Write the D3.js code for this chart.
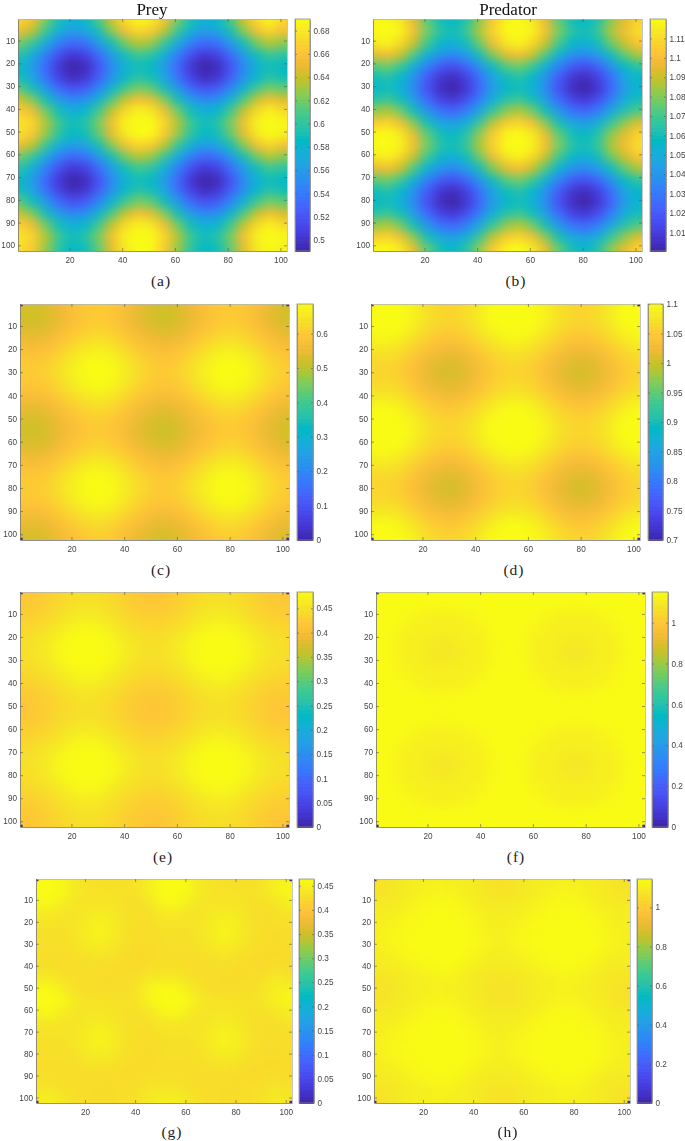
<!DOCTYPE html>
<html><head><meta charset="utf-8">
<script src="https://cdn.jsdelivr.net/npm/d3@7"></script>
<style>html,body{margin:0;padding:0;background:#fff}svg{display:block}</style>
</head><body><svg id="c" width="685" height="1141"></svg>
<script>
// grid positions at which the picture was read (matrix row / column index)
const gridIdx = [1,6,11,16,21,26,31,36,41,46,51,56,61,66,71,76,81,86,91,96,101];
const valueUnit = 1000; // values below are stored in thousandths
const cornerCells = [[1,1],[102,1],[1,102],[102,102]];
const axisTicks = [20,40,60,80,100];
const rowTicks = [10,20,30,40,50,60,70,80,90,100];
const parula = ["#3e26a8","#4432cb","#4741e5","#4852f4","#4563fd","#3875fe","#2e87f7","#2796eb","#20a5e3","#12b1d6","#02bac3","#24c1ae","#37c897","#57cc7a","#81cc59","#abc739","#d1bf27","#f0ba36","#fec338","#fad62d","#f5e924","#f9fb15"];
const columnTitles = ["Prey","Predator"];
const captions = ["(a)","(b)","(c)","(d)","(e)","(f)","(g)","(h)"];

// The fields repeat every 50 cells in the picture, so each panel lists the rows read over one period.
const A0=[670,656,622,592,578,584,609,643,673,689,682,656,622,592,578,584,609,643,673,689,670];
const A1=[652,637,603,575,561,567,590,624,654,670,663,637,603,575,561,567,590,624,654,670,657];
const A2=[621,603,572,545,531,537,560,590,620,636,629,603,572,545,531,537,560,590,620,636,625];
const A3=[597,575,545,518,504,510,533,563,590,606,599,575,545,518,504,510,533,563,590,606,599];
const A4=[584,561,531,504,490,496,519,549,576,590,584,561,531,504,490,496,519,549,576,590,584];
const A5=[590,567,537,510,496,502,525,555,582,597,590,567,537,510,496,502,525,555,582,597,590];
const A6=[614,590,560,533,519,525,548,578,607,622,616,590,560,533,519,525,548,578,607,622,616];
const A7=[642,624,590,563,549,555,578,610,640,656,650,624,590,563,549,555,578,610,640,656,646];
const A8=[666,654,620,590,576,582,607,640,671,686,680,654,620,590,576,582,607,640,671,686,673];
const A9=[680,670,636,606,590,597,622,656,686,690,690,670,636,606,590,597,622,656,686,690,688];
const A10=[675,663,629,599,584,590,616,649,680,690,689,663,629,599,584,590,616,649,680,690,684];
const preyA = [A0,A1,A2,A3,A4,A5,A6,A7,A8,A9,A10,A1,A2,A3,A4,A5,A6,A7,A8,A9,A10];

const B0=[1118,1120,1114,1096,1075,1060,1056,1064,1082,1104,1118,1120,1114,1096,1075,1060,1056,1064,1082,1095,1107];
const B1=[1120,1120,1118,1100,1079,1064,1060,1069,1087,1108,1120,1120,1118,1100,1079,1064,1060,1069,1087,1099,1112];
const B2=[1114,1118,1109,1091,1070,1056,1052,1060,1078,1099,1114,1118,1109,1091,1070,1056,1052,1060,1078,1091,1103];
const B3=[1096,1100,1091,1073,1053,1040,1036,1044,1060,1081,1096,1100,1091,1073,1053,1040,1036,1044,1060,1076,1087];
const B4=[1075,1079,1070,1053,1034,1021,1017,1025,1041,1060,1075,1079,1070,1053,1034,1021,1017,1025,1041,1058,1067];
const B5=[1060,1064,1056,1040,1021,1008,1004,1012,1028,1047,1060,1064,1056,1040,1021,1008,1004,1012,1028,1047,1056];
const B6=[1056,1060,1052,1036,1017,1004,1000,1008,1024,1043,1056,1060,1052,1036,1017,1004,1000,1008,1024,1043,1054];
const B7=[1064,1069,1060,1044,1025,1012,1008,1016,1032,1051,1064,1069,1060,1044,1025,1012,1008,1016,1032,1050,1060];
const B8=[1082,1087,1078,1060,1041,1028,1024,1032,1048,1068,1082,1087,1078,1060,1041,1028,1024,1032,1048,1063,1073];
const B9=[1104,1108,1099,1081,1060,1047,1043,1051,1068,1089,1104,1108,1099,1081,1060,1047,1043,1051,1068,1082,1094];
const predatorB = [B0,B1,B2,B3,B4,B5,B6,B7,B8,B9,B0,B1,B2,B3,B4,B5,B6,B7,B8,B9,B0];

const C0=[530,525,536,558,582,600,606,594,572,548,530,525,536,558,582,600,606,594,572,548,530];
const C1=[525,520,531,553,577,595,600,589,567,543,525,520,531,553,577,595,600,589,567,543,525];
const C2=[536,531,542,564,588,607,613,600,578,554,536,531,542,564,588,607,613,600,578,554,536];
const C3=[558,553,564,586,612,634,640,626,600,576,558,553,564,586,612,634,640,626,600,576,558];
const C4=[582,577,588,612,641,662,668,655,629,600,582,577,588,612,641,662,668,655,629,600,582];
const C5=[600,595,607,634,662,684,686,677,650,622,600,595,607,634,662,684,686,677,650,622,600];
const C6=[606,600,613,640,668,686,686,683,656,628,606,600,613,640,668,686,686,683,656,628,606];
const C7=[594,589,600,626,655,677,683,670,643,614,594,589,600,626,655,677,683,670,643,614,594];
const C8=[572,567,578,600,629,650,656,643,617,590,572,567,578,600,629,650,656,643,617,590,572];
const C9=[548,543,554,576,600,622,628,614,590,566,548,543,554,576,600,622,628,614,590,566,548];
const preyC = [C0,C1,C2,C3,C4,C5,C6,C7,C8,C9,C0,C1,C2,C3,C4,C5,C6,C7,C8,C9,C0];

const D0=[1100,1100,1100,1091,1073,1062,1059,1065,1080,1098,1100,1100,1100,1091,1073,1062,1059,1065,1080,1098,1100];
const D1=[1100,1100,1100,1094,1076,1064,1062,1068,1083,1100,1100,1100,1100,1094,1076,1064,1062,1068,1083,1100,1100];
const D2=[1100,1100,1100,1086,1070,1058,1055,1062,1076,1094,1100,1100,1100,1086,1070,1058,1055,1062,1076,1094,1100];
const D3=[1091,1094,1086,1071,1056,1043,1040,1048,1062,1078,1091,1094,1086,1071,1056,1043,1040,1048,1062,1078,1091];
const D4=[1073,1076,1070,1056,1038,1027,1023,1031,1045,1062,1073,1076,1070,1056,1038,1027,1023,1031,1045,1062,1073];
const D5=[1062,1064,1058,1043,1027,1014,1011,1018,1033,1050,1062,1064,1058,1043,1027,1014,1011,1018,1033,1050,1062];
const D6=[1059,1062,1055,1040,1023,1011,1008,1015,1030,1047,1059,1062,1055,1040,1023,1011,1008,1015,1030,1047,1059];
const D7=[1065,1068,1062,1048,1031,1018,1015,1022,1037,1054,1065,1068,1062,1048,1031,1018,1015,1022,1037,1054,1065];
const D8=[1080,1083,1076,1062,1045,1033,1030,1037,1052,1068,1080,1083,1076,1062,1045,1033,1030,1037,1052,1068,1080];
const D9=[1098,1100,1094,1078,1062,1050,1047,1054,1068,1085,1098,1100,1094,1078,1062,1050,1047,1054,1068,1085,1098];
const predatorD = [D0,D1,D2,D3,D4,D5,D6,D7,D8,D9,D0,D1,D2,D3,D4,D5,D6,D7,D8,D9,D0];

const E0=[416,420,428,438,446,450,446,438,428,420,416,420,428,438,446,450,446,438,428,420,416];
const E1=[420,422,431,442,450,454,450,442,431,422,420,422,431,442,450,454,450,442,431,422,420];
const E2=[428,431,439,450,461,464,461,450,439,431,428,431,439,450,461,464,461,450,439,431,428];
const E3=[438,442,450,462,474,478,474,462,450,442,438,442,450,462,474,478,474,462,450,442,438];
const E4=[446,450,461,474,483,483,483,474,461,450,446,450,461,474,483,483,483,474,461,450,446];
const E5=[450,454,464,478,483,483,483,478,464,454,450,454,464,478,483,483,483,478,464,454,450];
const preyE = [E0,E1,E2,E3,E4,E5,E4,E3,E2,E1,E0,E1,E2,E3,E4,E5,E4,E3,E2,E1,E0];

const F0=[1150,1150,1150,1150,1150,1150,1150,1150,1150,1150,1150,1150,1150,1150,1150,1150,1150,1150,1150,1150,1150];
const F1=[1150,1150,1150,1150,1148,1145,1148,1150,1150,1150,1150,1150,1150,1150,1148,1145,1148,1150,1150,1150,1150];
const F2=[1150,1150,1148,1132,1118,1118,1118,1132,1148,1150,1150,1150,1148,1132,1118,1118,1118,1132,1148,1150,1150];
const F3=[1150,1150,1132,1118,1118,1116,1118,1118,1132,1150,1150,1150,1132,1118,1118,1116,1118,1118,1132,1150,1150];
const F4=[1150,1148,1118,1118,1106,1095,1106,1118,1118,1148,1150,1148,1118,1118,1106,1095,1106,1118,1118,1148,1150];
const F5=[1150,1145,1118,1116,1095,1086,1095,1116,1118,1145,1150,1145,1118,1116,1095,1086,1095,1116,1118,1145,1150];
const predatorF = [F0,F1,F2,F3,F4,F5,F4,F3,F2,F1,F0,F1,F2,F3,F4,F5,F4,F3,F2,F1,F0];

const preyG = [
[462,464,458,441,434,432,432,433,435,450,462,464,458,441,434,432,432,433,435,450,454],
[464,464,460,443,436,435,434,434,435,450,464,464,460,443,436,435,434,434,435,450,460],
[458,460,447,437,437,437,436,433,432,437,458,460,447,437,437,437,436,433,432,437,450],
[443,443,437,436,443,446,443,433,430,432,443,443,437,436,443,446,443,433,430,432,436],
[435,435,434,437,447,454,446,434,429,429,435,435,434,437,447,454,446,434,429,429,430],
[432,432,432,437,448,456,447,434,428,427,432,432,432,437,448,456,447,434,428,427,428],
[430,430,430,434,443,446,441,432,426,426,430,430,430,434,443,446,441,432,426,426,427],
[429,429,429,430,434,435,433,427,424,425,429,429,429,430,434,435,433,427,424,425,426],
[431,431,429,428,429,429,426,424,425,429,431,431,429,428,429,429,426,424,425,429,428],
[443,443,434,430,428,427,426,428,432,444,443,443,434,430,428,427,426,428,432,444,436],
[462,462,447,433,429,428,428,430,436,457,462,462,447,433,429,428,428,430,436,450,451],
[464,464,460,443,436,435,434,434,436,457,464,464,460,443,436,435,434,434,436,451,458],
[457,460,447,437,437,437,436,433,432,438,457,460,447,437,437,437,436,433,432,438,447],
[440,441,437,436,441,446,441,433,430,432,440,441,437,436,441,446,441,433,430,432,435],
[434,435,434,437,447,453,446,434,429,429,434,435,434,437,447,453,446,434,429,429,430],
[432,432,432,437,447,454,447,434,428,427,432,432,432,437,447,454,447,434,428,427,428],
[430,430,430,433,441,444,441,432,426,426,430,430,430,433,441,444,441,432,426,426,427],
[429,429,429,430,433,434,432,427,424,425,429,429,429,430,433,434,432,427,424,425,426],
[430,430,429,428,428,428,426,425,426,430,430,430,429,428,428,428,426,425,426,430,428],
[437,438,433,429,428,427,427,429,432,438,437,438,433,429,428,427,427,429,432,438,434],
[448,450,438,431,428,427,427,429,434,443,448,450,438,431,428,427,427,429,434,443,440]];

const H0=[1068,1075,1090,1105,1108,1112,1110,1105,1095,1080,1068,1075,1090,1105,1108,1112,1110,1105,1095,1080,1068];
const H1=[1075,1080,1092,1105,1115,1125,1120,1108,1098,1082,1075,1080,1092,1105,1115,1125,1120,1108,1098,1082,1075];
const H2=[1090,1092,1100,1115,1130,1138,1135,1122,1102,1094,1090,1092,1100,1115,1130,1138,1135,1122,1102,1094,1090];
const H3=[1103,1105,1115,1132,1140,1142,1142,1135,1118,1105,1103,1105,1115,1132,1140,1142,1142,1135,1118,1105,1103];
const H4=[1108,1115,1130,1140,1145,1145,1145,1142,1130,1110,1108,1115,1130,1140,1145,1145,1145,1142,1130,1110,1108];
const H5=[1110,1125,1138,1142,1145,1145,1145,1145,1138,1122,1110,1125,1138,1142,1145,1145,1145,1145,1138,1122,1110];
const H6=[1110,1120,1135,1142,1145,1145,1145,1145,1135,1118,1110,1120,1135,1142,1145,1145,1145,1145,1135,1118,1110];
const H7=[1105,1108,1122,1135,1142,1145,1145,1140,1122,1106,1105,1108,1122,1135,1142,1145,1145,1140,1122,1106,1105];
const H8=[1095,1098,1102,1118,1130,1138,1135,1122,1103,1095,1095,1098,1102,1118,1130,1138,1135,1122,1103,1095,1095];
const H9=[1080,1082,1094,1105,1110,1122,1118,1106,1095,1082,1080,1082,1094,1105,1110,1122,1118,1106,1095,1082,1080];
const predatorH = [H0,H1,H2,H3,H4,H5,H6,H7,H8,H9,H0,H1,H2,H3,H4,H5,H6,H7,H8,H9,H0];

const panelData = [preyA,predatorB,preyC,predatorD,preyE,predatorF,preyG,predatorH];
const colorDomains = [[.4905,.69],[1.0004,1.12],[0,.686],[.7,1.1],[0,.4835],[0,1.15],[0,.464],[0,1.145]];
const colorTicks = [
  [.5,.52,.54,.56,.58,.6,.62,.64,.66,.68],
  [1.01,1.02,1.03,1.04,1.05,1.06,1.07,1.08,1.09,1.1,1.11],
  [0,.1,.2,.3,.4,.5,.6],
  [.7,.75,.8,.85,.9,.95,1,1.05,1.1],
  [0,.05,.1,.15,.2,.25,.3,.35,.4,.45],
  [0,.2,.4,.6,.8,1],
  [0,.05,.1,.15,.2,.25,.3,.35,.4,.45],
  [0,.2,.4,.6,.8,1]];
const showCorners = [false,false,true,true,true,true,true,true];

// layout, in pixels: plot left/right, colorbar left/right, top/bottom, caption x/baseline
const layout = [
 {l:18,r:287,cl:295,cr:310,t:19,b:251,tx:161,ty:286},
 {l:373,r:642,cl:650,cr:666,t:19,b:251,tx:516,ty:286},
 {l:20,r:289,cl:297,cr:313,t:304,b:540,tx:161,ty:575},
 {l:371,r:640,cl:648,cr:663,t:304,b:540,tx:514,ty:575},
 {l:20,r:289,cl:297,cr:313,t:592,b:827,tx:163,ty:862},
 {l:376,r:645,cl:652,cr:668,t:592,b:827,tx:516,ty:862},
 {l:36,r:292,cl:299,cr:314,t:879,b:1103,tx:172,ty:1137},
 {l:374,r:630,cl:637,cr:652,t:879,b:1103,tx:508,ty:1137}];
const titleLayout = [{x:152,y:15},{x:508,y:15}];

const svg = d3.select("#c");
const defs = svg.append("defs");
const soft = defs.append("filter").attr("id","soft").attr("filterUnits","userSpaceOnUse")
  .attr("x",-50).attr("y",-50).attr("width",800).attr("height",1250);
soft.attr("color-interpolation-filters","sRGB");
soft.append("feGaussianBlur").attr("stdDeviation","5.2 4.6");
const crisp = defs.append("filter").attr("id","txt").attr("filterUnits","userSpaceOnUse")
  .attr("x",0).attr("y",0).attr("width",685).attr("height",1141);
crisp.attr("color-interpolation-filters","sRGB");
crisp.append("feGaussianBlur").attr("stdDeviation",0.3);

const color = d3.piecewise(d3.interpolateRgb, parula);
const fmt = d => String(+d.toFixed(2));
const sans = "'Liberation Sans',Arimo,Arial,sans-serif";
const serif = "'Liberation Serif','DejaVu Serif',serif";

function styleAxis(g, stroke){
  g.select(".domain").attr("stroke",stroke).attr("stroke-width",0.8);
  g.selectAll(".tick line").attr("stroke","#555").attr("stroke-width",0.6);
  g.selectAll("text").attr("fill","#444").style("font-family",sans).style("font-size","8.2px");
}

panelData.forEach((rows,k)=>{
  const L = layout[k];
  const x = d3.scaleLinear().domain([0.5,102.5]).range([L.l,L.r]);
  const y = d3.scaleLinear().domain([0.5,102.5]).range([L.t,L.b]);
  const cs = d3.scaleSequential(color).domain(colorDomains[k]).clamp(true);
  const gp = svg.append("g");
  const clipId = "clip"+k;
  defs.append("clipPath").attr("id",clipId).append("rect")
    .attr("x",L.l).attr("y",L.t).attr("width",L.r-L.l).attr("height",L.b-L.t);
  const cells = rows.flatMap((r,j)=>r.map((v,i)=>({i,j,v:v/valueUnit})));
  const over = 30; // outer cells run past the frame so the softening stays opaque inside it
  const x0 = d => d.i===0 ? x(gridIdx[0]-over) : x(gridIdx[d.i]-2.5);
  const x1 = d => d.i===gridIdx.length-1 ? x(gridIdx[d.i]+over) : x(gridIdx[d.i]+2.5);
  const y0 = d => d.j===0 ? y(gridIdx[0]-over) : y(gridIdx[d.j]-2.5);
  const y1 = d => d.j===gridIdx.length-1 ? y(gridIdx[d.j]+over) : y(gridIdx[d.j]+2.5);
  gp.append("g").attr("clip-path",`url(#${clipId})`)
    .append("g").attr("filter","url(#soft)")
    .selectAll("rect").data(cells).join("rect")
    .attr("x",x0).attr("y",y0)
    .attr("width",d=>x1(d)-x0(d)+0.5).attr("height",d=>y1(d)-y0(d)+0.5)
    .attr("fill",d=>cs(d.v)).attr("shape-rendering","crispEdges");
  if(showCorners[k]){
    gp.append("g").selectAll("rect").data(cornerCells).join("rect")
      .attr("x",d=>x(d[0]-0.5)).attr("y",d=>y(d[1]-0.5))
      .attr("width",x(1)-x(0)).attr("height",y(1)-y(0))
      .attr("fill",cs(colorDomains[k][0]));
  }
  const ax = svg.append("g").attr("filter","url(#txt)");
  ax.append("g").attr("transform",`translate(0,${L.b})`)
    .call(d3.axisBottom(x).tickValues(axisTicks).tickSizeInner(-3).tickSizeOuter(0).tickPadding(6))
    .call(styleAxis,"#777");
  ax.append("g").attr("transform",`translate(0,${L.t})`)
    .call(d3.axisTop(x).tickValues(axisTicks).tickSizeInner(-3).tickSizeOuter(0).tickFormat(""))
    .call(styleAxis,"#b5b5b5");
  ax.append("g").attr("transform",`translate(${L.l},0)`)
    .call(d3.axisLeft(y).tickValues(rowTicks).tickSizeInner(-3).tickSizeOuter(0).tickPadding(3))
    .call(styleAxis,"#777");
  ax.append("g").attr("transform",`translate(${L.r},0)`)
    .call(d3.axisRight(y).tickValues(rowTicks).tickSizeInner(-3).tickSizeOuter(0).tickFormat(""))
    .call(styleAxis,"#b5b5b5");
  // colorbar
  const cy = d3.scaleLinear().domain(colorDomains[k]).range([L.b,L.t]);
  const step = (colorDomains[k][1]-colorDomains[k][0])/64;
  const levels = d3.range(64).map(n=>colorDomains[k][0]+(n+0.5)*step);
  gp.append("g").selectAll("rect").data(levels).join("rect")
    .attr("x",L.cl).attr("width",L.cr-L.cl)
    .attr("y",d=>cy(d+step/2)).attr("height",d=>cy(d-step/2)-cy(d+step/2)+0.6)
    .attr("fill",d=>cs(d)).attr("shape-rendering","crispEdges");
  ax.append("g").attr("transform",`translate(${L.cr},0)`)
    .call(d3.axisRight(cy).tickValues(colorTicks[k]).tickSizeInner(-2).tickSizeOuter(0).tickPadding(3.5).tickFormat(fmt))
    .call(styleAxis,"#8a8a8a");
  ax.append("g").attr("transform",`translate(${L.cl},0)`)
    .call(d3.axisLeft(cy).tickValues(colorTicks[k]).tickSizeInner(-2).tickSizeOuter(0).tickFormat(""))
    .call(styleAxis,"#8a8a8a");
  ax.append("rect").attr("x",L.cl).attr("y",L.t).attr("width",L.cr-L.cl).attr("height",L.b-L.t)
    .attr("fill","none").attr("stroke","#8a8a8a").attr("stroke-width",0.8);
  svg.append("text").attr("x",L.tx).attr("y",L.ty).attr("text-anchor","middle")
    .style("font-family",serif).style("font-size","15.5px").style("letter-spacing","1px")
    .attr("fill","#222").text(captions[k]);
});
svg.selectAll(".title").data(columnTitles).join("text").attr("class","title")
  .attr("x",(d,i)=>titleLayout[i].x).attr("y",(d,i)=>titleLayout[i].y).attr("text-anchor","middle")
  .style("font-family",serif).style("font-size","17px").attr("fill","#111").text(d=>d);
</script></body></html>
